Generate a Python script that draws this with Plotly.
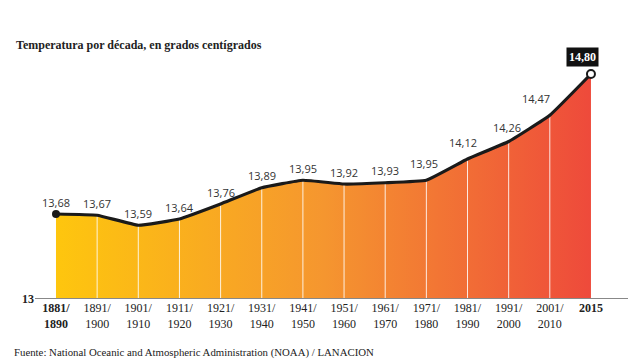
import plotly.graph_objects as go

categories = ["<b>1881/<br>1890</b>", "1891/<br>1900", "1901/<br>1910", "1911/<br>1920",
              "1921/<br>1930", "1931/<br>1940", "1941/<br>1950", "1951/<br>1960",
              "1961/<br>1970", "1971/<br>1980", "1981/<br>1990", "1991/<br>2000",
              "2001/<br>2010", "<b>2015</b>"]
temps = [13.68, 13.67, 13.59, 13.64, 13.76, 13.89, 13.95, 13.92, 13.93, 13.95,
         14.12, 14.26, 14.47, 14.80]
labels = ["13,68", "13,67", "13,59", "13,64", "13,76", "13,89", "13,95", "13,92",
          "13,93", "13,95", "14,12", "14,26", "14,47", "14,80"]

# label placement tweaks (style only): index -> (xshift, yshift)
label_offsets = {9: (-2, 17), 10: (-5, 17), 11: (-2, 14), 12: (-14, 17)}

x = list(range(len(temps)))
base = 13

fig = go.Figure()

# gradient area
fig.add_trace(go.Scatter(
    x=x, y=temps, mode="lines", line=dict(width=0), fill="tozeroy",
    fillgradient=dict(type="horizontal",
                      colorscale=[[0, "#FEC60E"], [0.5, "#F5962F"], [1, "#EE4A3B"]]),
    hoverinfo="skip", showlegend=False))

# white separators
vx, vy = [], []
for i in range(1, len(temps) - 1):
    vx += [i, i, None]
    vy += [base, temps[i], None]
fig.add_trace(go.Scatter(x=vx, y=vy, mode="lines",
                         line=dict(color="rgba(255,255,255,0.85)", width=1),
                         hoverinfo="skip", showlegend=False))

# line
fig.add_trace(go.Scatter(x=x, y=temps, mode="lines",
                         line=dict(color="#1a1a1a", width=3.2, shape="spline", smoothing=0.3),
                         hoverinfo="skip", showlegend=False))

# end markers
fig.add_trace(go.Scatter(x=[x[0]], y=[temps[0]], mode="markers",
                         marker=dict(size=8, color="#1a1a1a"), showlegend=False))
fig.add_trace(go.Scatter(x=[x[-1]], y=[temps[-1]], mode="markers",
                         marker=dict(size=8, color="white", line=dict(color="#1a1a1a", width=2)),
                         showlegend=False))

annos = []
# value labels
for i, (xi, yi, lab) in enumerate(zip(x[:-1], temps[:-1], labels[:-1])):
    xs, ys = label_offsets.get(i, (0, 12))
    annos.append(dict(x=xi, y=yi, text=lab, showarrow=False, xshift=xs, yshift=ys,
                      font=dict(family="Open Sans", size=11, color="#333333")))

annos.append(dict(x=x[-1], y=temps[-1], text="<b>" + labels[-1] + "</b>",
                  showarrow=False, yshift=17, xshift=-8,
                  bgcolor="#111111", borderpad=2,
                  font=dict(family="Liberation Serif", size=12, color="white")))

annos.append(dict(text="<b>Temperatura por década, en grados centígrados</b>",
                  xref="paper", yref="paper", x=-21 / 593, y=1.0, yshift=15,
                  xanchor="left", yanchor="middle", showarrow=False,
                  font=dict(family="Liberation Serif", size=12, color="#222222")))
annos.append(dict(text="Fuente: National Oceanic and Atmospheric Administration (NOAA) / LANACION",
                  xref="paper", yref="paper", x=-23 / 593, y=0, yshift=-53,
                  xanchor="left", yanchor="middle", showarrow=False,
                  font=dict(family="Liberation Serif", size=10.8, color="#222222")))

fig.update_layout(
    width=640, height=364,
    margin=dict(l=35, r=12, t=60, b=65, autoexpand=False),
    paper_bgcolor="white", plot_bgcolor="white",
    xaxis=dict(range=[-0.51, 13.9], tickvals=x, ticktext=categories, automargin=False,
               showgrid=False, zeroline=False, showline=False, ticks="",
               tickfont=dict(family="Liberation Serif", size=12, color="#222222")),
    yaxis=dict(range=[base, 14.912], tickvals=[base], ticktext=["<b>13</b>"], automargin=False,
               showgrid=False, zeroline=False, showline=False, ticks="",
               tickfont=dict(family="Liberation Serif", size=12, color="#222222")),
    annotations=annos,
)

# baseline axis line
fig.add_shape(type="line", xref="paper", yref="y", x0=0, x1=1, y0=base, y1=base,
              line=dict(color="#888888", width=2))

fig.write_html("out.html", config={"displayModeBar": False},
               post_script="document.body.style.margin='0';document.body.style.overflow='hidden';")
